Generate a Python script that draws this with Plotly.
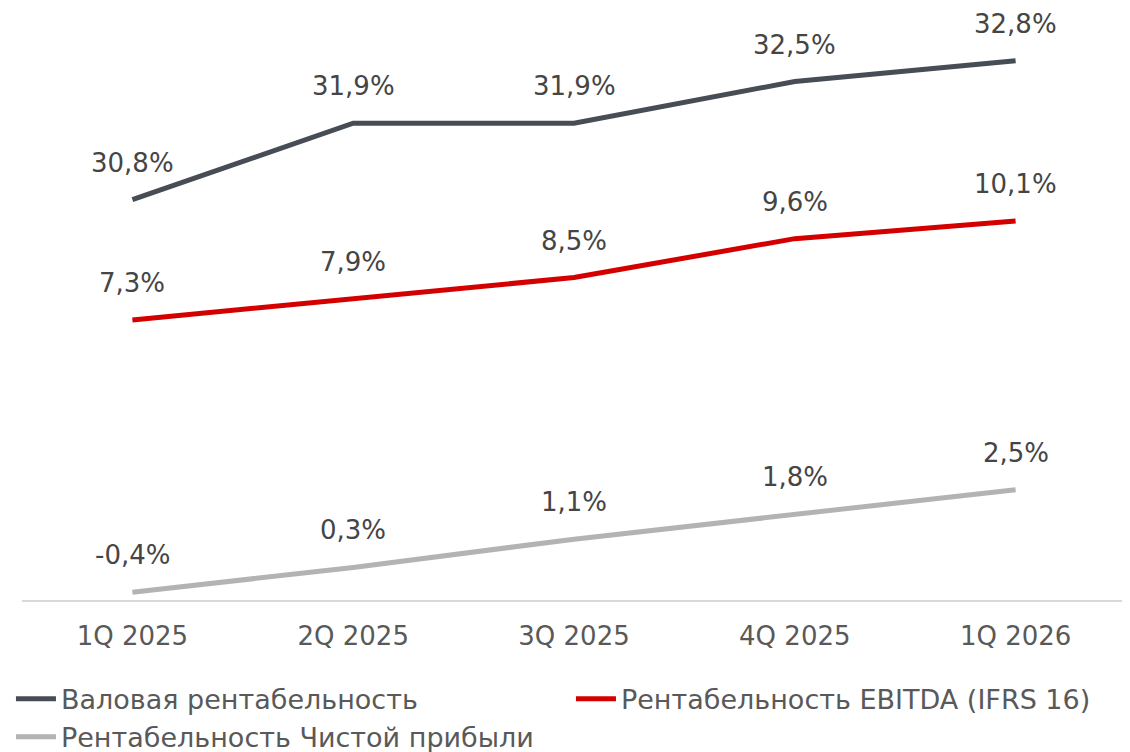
import plotly.graph_objects as go

categories = ["1Q 2025", "2Q 2025", "3Q 2025", "4Q 2025", "1Q 2026"]
gross_margin = [30.8, 31.9, 31.9, 32.5, 32.8]
ebitda_margin = [7.3, 7.9, 8.5, 9.6, 10.1]
net_margin = [-0.4, 0.3, 1.1, 1.8, 2.5]

names = ["Валовая рентабельность", "Рентабельность EBITDA (IFRS 16)", "Рентабельность Чистой прибыли"]
colors = ["#474d54", "#d40000", "#b3b3b3"]

FONT = "DejaVu Sans"

def fmt(v):
    return f"{v:.1f}%".replace(".", ",")

fig = go.Figure()
series = [(gross_margin, "y2"), (ebitda_margin, "y"), (net_margin, "y")]
for (vals, ax), name, col in zip(series, names, colors):
    fig.add_trace(go.Scatter(
        x=categories, y=vals, name=name, mode="lines",
        line=dict(color=col, width=5), yaxis=ax,
    ))
    for c, v in zip(categories, vals):
        fig.add_annotation(
            x=c, y=v, xref="x", yref=ax, text=fmt(v), showarrow=False,
            yshift=37, font=dict(family=FONT, size=26, color="#454545"),
        )

fig.update_layout(
    width=1130, height=752,
    margin=dict(l=14, r=12, t=4, b=160, autoexpand=False),
    paper_bgcolor="white", plot_bgcolor="white",
    font=dict(family=FONT, color="#595959"),
    showlegend=True,
    legend=dict(
        orientation="h", x=-0.01, xanchor="left", y=-0.127, yanchor="top",
        font=dict(family=FONT, size=27, color="#595959"),
        entrywidth=505, entrywidthmode="pixels",
        itemwidth=40, tracegroupgap=0,
    ),
    xaxis=dict(
        type="category", range=[-0.5, 4.5],
        showgrid=False, zeroline=False,
        showline=True, linecolor="#d9d9d9", linewidth=2,
        ticks="", tickfont=dict(family=FONT, size=26, color="#595959"),
        ticklabelstandoff=12,
    ),
    yaxis=dict(range=[-0.62, 16.01], visible=False, showgrid=False, zeroline=False),
    yaxis2=dict(range=[25.04, 33.5], visible=False, showgrid=False, zeroline=False,
                overlaying="y", side="right"),
)

fig.write_html("out.html")
